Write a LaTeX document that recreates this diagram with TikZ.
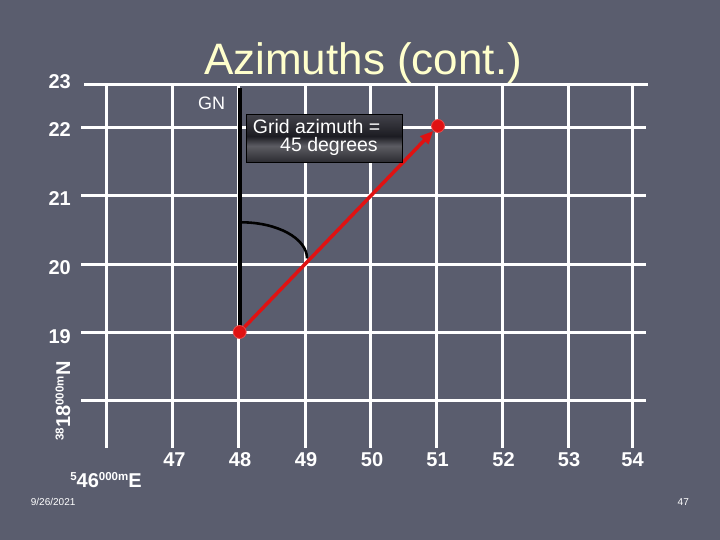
\documentclass[tikz,border=0pt]{standalone}
\usepackage{fontspec}
\setmainfont{Liberation Sans}
\usetikzlibrary{arrows.meta}
\definecolor{bg}{RGB}{90,93,110}
\definecolor{titlecol}{RGB}{255,255,204}
\definecolor{redline}{RGB}{224,18,18}
\definecolor{gA}{RGB}{44,44,50}
\definecolor{gB}{RGB}{92,92,99}
\definecolor{gC}{RGB}{28,28,34}
\definecolor{gD}{RGB}{66,66,74}
\pgfdeclareverticalshading{boxshade}{100bp}{color(0bp)=(gA); color(25bp)=(gA); color(42bp)=(gB); color(52bp)=(gC); color(75bp)=(gD); color(100bp)=(gD)}
\tikzset{
  gridline/.style={draw=white, line width=3pt},
  rowlab/.style={text=white, font=\fontsize{20}{24}\selectfont\bfseries, anchor=base east, inner sep=0pt},
  collab/.style={text=white, font=\fontsize{20}{24}\selectfont\bfseries, anchor=base, inner sep=0pt},
  smalltext/.style={text=white, font=\fontsize{10}{12}\selectfont, anchor=base west, inner sep=0pt},
  boxtext/.style={text=white, font=\fontsize{19.5}{22}\selectfont, anchor=base west, inner sep=0pt},
  dot/.style={circle, fill=redline, draw=redline!75!white, line width=0.8pt, minimum size=13pt, inner sep=0pt},
  redarrow/.style={draw=redline, line width=3.5pt, -{Triangle[length=13pt,width=11pt]}},
  gnline/.style={draw=black, line width=4pt},
}
\newcommand{\bigc}[1]{{\fontsize{20}{24}\selectfont\bfseries #1}}
\newcommand{\smallc}[1]{\raisebox{6.5pt}{\fontsize{11.5}{14}\selectfont\bfseries #1}}
\begin{document}
\begin{tikzpicture}[x=1pt,y=-1pt]
\fill[bg] (0,0) rectangle (720,540);
\useasboundingbox (0,0) rectangle (720,540);

% title
\node[text=titlecol, font=\fontsize{44}{50}\selectfont, anchor=base, inner sep=0pt] (title) at (363,75) {Azimuths (cont.)};

% grid
\draw[gridline] (84,84.5) -- (647.5,84.5);
\foreach \yy in {127.5,195.8,264.2,332.5,400.5}
  \draw[gridline] (81,\yy) -- (646,\yy);
\foreach \xx in {106.7,172.5,238.8,305,370.8,436.7,502.6,568.3,632}
  \draw[gridline] (\xx,84.5) -- (\xx,448);

% row labels
\node[rowlab] (r23) at (71,89) {23};
\node[rowlab] (r22) at (71,136.7) {22};
\node[rowlab] (r21) at (71,205.5) {21};
\node[rowlab] (r20) at (71,274) {20};
\node[rowlab] (r19) at (71,343) {19};

% column labels
\node[collab] (c47) at (174.5,466) {47};
\node[collab] (c48) at (240,466) {48};
\node[collab] (c49) at (306,466) {49};
\node[collab] (c50) at (372,466) {50};
\node[collab] (c51) at (437.5,466) {51};
\node[collab] (c52) at (503.5,466) {52};
\node[collab] (c53) at (569,466) {53};
\node[collab] (c54) at (632.5,466) {54};

% axis captions
\node[text=white, anchor=base, inner sep=0pt] (east) at (106,487)
  {\smallc{5}\bigc{46}\smallc{000m}\bigc{E}};
\node[text=white, anchor=base, inner sep=0pt, rotate=90] (north) at (70,401)
  {\smallc{38}\bigc{18}\smallc{000m}\bigc{N}};

% GN line and angle arc
\coordinate (gntop) at (239.7,88);
\coordinate (start) at (239.7,332);
\coordinate (target) at (438,126);
\draw[gnline] (gntop) -- (start);
\node[text=white, font=\fontsize{18}{20}\selectfont, inner sep=0pt] (gn) at (211.5,103.5) {GN};
\coordinate (arcA) at (241,222.3);
\coordinate (arcB) at (307,258.3);
\draw[black, line width=2.6pt] (arcA) .. controls (277.5,222.3) and (307,238.5) .. (arcB);

% azimuth arrow
\node[dot] (p0) at (start) {};
\node[dot] (p1) at (target) {};
\draw[redarrow] (p0) -- (p1);

% label box
\node[draw=black, line width=1pt, shading=boxshade, minimum width=156pt, minimum height=47.7pt, inner sep=0pt] (box) at (324,138.2) {};
\node[boxtext] (bt1) at (252.7,133.3) {Grid azimuth =};
\node[boxtext] (bt2) at (280,152) {45 degrees};

% footer
\node[smalltext] (date) at (30.7,505) {9/26/2021};
\node[smalltext] (page) at (677.5,505) {47};
\end{tikzpicture}
\end{document}
